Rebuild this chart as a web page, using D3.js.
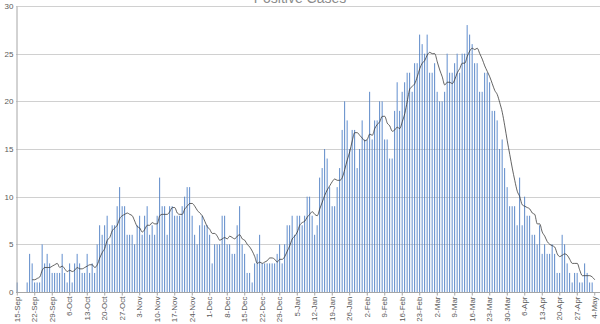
<!DOCTYPE html>
<html>
<head>
<meta charset="utf-8">
<script src="https://cdn.jsdelivr.net/npm/d3@7"></script>
<style>
  html, body { margin: 0; padding: 0; background: #fff; }
  svg { display: block; }
  text { font-family: "Liberation Sans", Arial, sans-serif; }
</style>
</head>
<body>
<svg id="chart" width="600" height="324"></svg>
<script>
// ---- Data ----
const chartTitle = "Positive Cases";
const startDate = new Date(2020, 8, 15);   // 15-Sep
const dailyCases = [
  1,0,0,0,1,4,3,1,1,1,
  5,3,4,3,2,2,2,2,4,2,
  1,3,1,3,4,3,2,2,4,2,
  3,2,5,7,6,7,8,5,7,7,
  9,11,9,9,6,6,6,5,7,8,
  6,8,9,6,7,6,8,12,9,9,
  6,9,9,8,8,8,9,10,11,11,
  8,6,5,7,8,7,7,6,3,5,
  5,5,8,8,5,5,4,4,7,9,
  5,4,2,2,1,3,4,6,3,3,
  3,3,3,3,4,5,3,5,7,7,
  8,6,8,8,7,8,10,10,8,6,
  7,12,13,15,14,11,9,9,11,13,
  17,20,18,15,17,17,13,15,18,16,
  16,21,16,18,18,20,20,16,16,14,
  14,19,22,19,21,22,23,23,21,24,
  24,27,26,25,27,23,23,24,21,20,
  20,21,25,23,23,24,25,23,25,25,
  28,27,26,24,24,21,21,23,23,22,
  19,19,18,15,16,13,11,9,9,9,
  7,12,7,10,8,8,6,6,5,7,
  4,5,4,4,5,4,2,2,6,5,
  3,2,1,2,2,1,1,3,2,1,
  1,0
];
const yTicks = [0, 5, 10, 15, 20, 25, 30];
const tickEvery = 7;       // one date label per week
const maWindow = 7;        // trailing moving average

// ---- Derived ----
const dates = dailyCases.map((_, i) => d3.timeDay.offset(startDate, i));
const fmt = d3.timeFormat("%-d-%b");
const movingAvg = dailyCases.map((v, i) =>
  i < maWindow - 1 ? null : d3.mean(dailyCases.slice(i - maWindow + 1, i + 1)));

// ---- Layout ----
const svg = d3.select("#chart");
const mLeft = 16, mRight = 596, mTop = 6, mBottom = 292;

const x = d3.scaleBand().domain(d3.range(dailyCases.length)).range([mLeft, mRight]).paddingInner(0.58).paddingOuter(0.29);
const y = d3.scaleLinear().domain([0, 30]).range([mBottom, mTop]);
const xc = i => x(i) + x.bandwidth() / 2;

// Gridlines
svg.append("g").selectAll("line").data(yTicks.filter(t => t > 0)).join("line")
  .attr("x1", mLeft).attr("x2", 600)
  .attr("y1", d => Math.round(y(d)) + 0.5).attr("y2", d => Math.round(y(d)) + 0.5)
  .attr("stroke", "#d0d0d0").attr("stroke-width", 1);

// Title (cut off at top as in reference)
svg.append("text").attr("x", 300).attr("y", 2.5).attr("text-anchor", "middle")
  .attr("font-size", 14).attr("fill", "#8c8c8c").text(chartTitle);

// Bars
const defs = svg.append("defs");
const grad = defs.append("linearGradient").attr("id", "barGrad").attr("x1", "0").attr("x2", "1").attr("y1", "0").attr("y2", "0");
grad.append("stop").attr("offset", "0%").attr("stop-color", "#3a6db5");
grad.append("stop").attr("offset", "60%").attr("stop-color", "#5b8bd0");
grad.append("stop").attr("offset", "100%").attr("stop-color", "#b3c9e8");

svg.append("g").selectAll("rect").data(dailyCases).join("rect")
  .attr("x", (d, i) => x(i))
  .attr("width", x.bandwidth())
  .attr("y", d => y(d))
  .attr("height", d => y(0) - y(d))
  .attr("fill", "url(#barGrad)");

// Moving average line
const line = d3.line()
  .defined(d => d != null)
  .x((d, i) => xc(i))
  .y(d => y(d))
  .curve(d3.curveMonotoneX);
svg.append("path").datum(movingAvg)
  .attr("d", line)
  .attr("fill", "none").attr("stroke", "#333").attr("stroke-width", 0.9).attr("opacity", 0.85);

// Axes
const yAxis = d3.axisLeft(y).tickValues(yTicks).tickSize(0).tickPadding(3);
const gy = svg.append("g").attr("transform", `translate(${mLeft + 0.5},0)`).call(yAxis);
gy.select(".domain").attr("stroke", "#a6a6a6");
gy.selectAll("text").attr("font-size", 8).attr("fill", "#595959")
  .attr("font-family", "'Liberation Sans', Arial, sans-serif");

const tickIdx = d3.range(0, dailyCases.length, tickEvery);
const xAxis = d3.axisBottom(x).tickValues(tickIdx).tickSize(3).tickFormat(i => fmt(dates[i]));
const gx = svg.append("g").attr("transform", `translate(0,${mBottom + 0.5})`).call(xAxis);
gx.select(".domain").attr("stroke", "#a6a6a6").attr("d", `M${mLeft},0H600`);
gx.selectAll(".tick line").attr("stroke", "#a6a6a6");
gx.selectAll("text")
  .attr("font-size", 8).attr("fill", "#595959")
  .attr("font-family", "'Liberation Sans', Arial, sans-serif")
  .attr("text-anchor", "end")
  .attr("transform", "rotate(-90)")
  .attr("x", -4).attr("y", 0).attr("dy", "0.32em");
</script>
</body>
</html>
